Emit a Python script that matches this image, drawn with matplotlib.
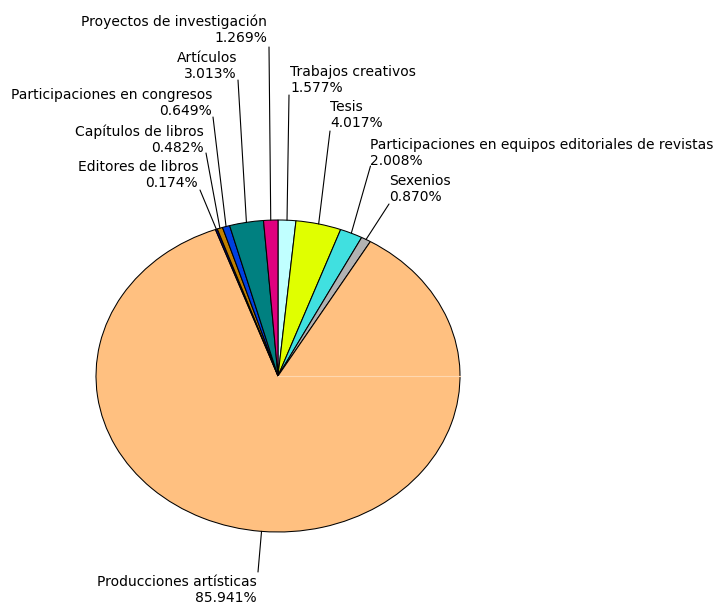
import matplotlib
matplotlib.use("Agg")
import matplotlib.pyplot as plt
import matplotlib.transforms as mtransforms
from matplotlib.patches import ConnectionPatch
import numpy as np

# ---- data (clockwise from 12 o'clock) ----
categories = [
    "Trabajos creativos",
    "Tesis",
    "Participaciones en equipos editoriales de revistas",
    "Sexenios",
    "Producciones artísticas",
    "Editores de libros",
    "Capítulos de libros",
    "Participaciones en congresos",
    "Artículos",
    "Proyectos de investigación",
]
values = [1.577, 4.017, 2.008, 0.870, 85.941, 0.174, 0.482, 0.649, 3.013, 1.269]
colors = ["#C0FFFF", "#E0FF00", "#40E0E0", "#B2B2B2", "#FFC080",
          "#000080", "#C08000", "#0040E0", "#008080", "#E0007F"]

# label anchor (pixel coords from top-left): (x, y of bottom of text block, ha)
label_pos = [
    (290, 95, "left"),
    (330, 130, "left"),
    (370, 168, "left"),
    (389, 204, "left"),
    (257, 575, "right"),
    (198, 190, "right"),
    (204, 155, "right"),
    (212, 118, "right"),
    (237, 81, "right"),
    (267, 45, "right"),
]
# leader start points at label (pixel coords)
leader_pos = [
    (289, 95), (330, 131), (370.5, 166), (389, 204), (258, 572),
    (200, 190), (206, 153), (213, 117), (238, 80), (269, 47),
]

W, H, DPI = 717, 607, 100
fig = plt.figure(figsize=(W / DPI, H / DPI), dpi=DPI)
ax = fig.add_axes([0, 0, 1, 1])

cx, cy = 278, 376          # pie centre in pixels (from top-left)
rx, ry = 182, 156          # pie radii in pixels

wedges, _ = ax.pie(values, colors=colors, startangle=90, counterclock=False,
                   wedgeprops=dict(edgecolor="black", linewidth=0.75),
                   radius=1.0)
ax.set_aspect("auto")
ax.set_xlim(-cx / rx, (W - cx) / rx)
ax.set_ylim(-(H - cy) / ry, cy / ry)
ax.axis("off")

# faint highlight line inside the big slice (as in the original rendering)
ax.plot([0, 1], [0, 0], color="#FFD8B0", lw=0.8, zorder=5)

pix = mtransforms.Affine2D().scale(1 / DPI, -1 / DPI).translate(0, H / DPI) + fig.dpi_scale_trans

for w, cat, val, (lx, ly, ha), (px, py) in zip(wedges, categories, values, label_pos, leader_pos):
    mid = np.deg2rad((w.theta1 + w.theta2) / 2)
    ex, ey = np.cos(mid), np.sin(mid)
    con = ConnectionPatch(xyA=(ex, ey), coordsA=ax.transData,
                          xyB=(px, py), coordsB=pix,
                          color="black", lw=0.8)
    fig.add_artist(con)
    va = "top" if cat == "Producciones artísticas" else "bottom"
    fig.text(lx, ly, f"{cat}\n{val:.3f}%", transform=pix, ha=ha, va=va,
             multialignment=ha, fontsize=10, family="DejaVu Sans",
             linespacing=1.22, color="black")

fig.savefig("out.png", dpi=DPI)
